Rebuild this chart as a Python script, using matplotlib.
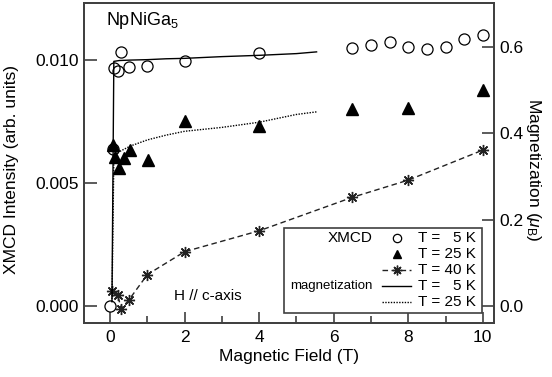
import matplotlib
matplotlib.use("Agg")
import matplotlib.pyplot as plt
from matplotlib.lines import Line2D
from matplotlib.patches import Rectangle

plt.rcParams["font.family"] = ["Liberation Sans", "DejaVu Sans"]
plt.rcParams["mathtext.fontset"] = "custom"
plt.rcParams["mathtext.rm"] = "Liberation Sans"
plt.rcParams["mathtext.it"] = "Liberation Sans:italic"

# XMCD intensity (arb. units)
field_5k = [0.0, 0.07, 0.1, 0.2, 0.3, 0.5, 1.0, 2.0, 4.0, 6.5, 7.0, 7.5, 8.0, 8.5, 9.0, 9.5, 10.0]
xmcd_5k = [0.0, 0.00638, 0.00968, 0.00955, 0.01032, 0.00972, 0.00977, 0.00997, 0.01027,
           0.01050, 0.01061, 0.01074, 0.01054, 0.01045, 0.01054, 0.01085, 0.01102]
field_25k = [0.09, 0.13, 0.24, 0.36, 0.54, 1.03, 2.0, 4.0, 6.5, 8.0, 10.0]
xmcd_25k = [0.00655, 0.00607, 0.00560, 0.00600, 0.00636, 0.00593, 0.00753, 0.00732,
            0.00802, 0.00806, 0.00878]
field_40k = [0.05, 0.2, 0.3, 0.5, 1.0, 2.0, 4.0, 6.5, 8.0, 10.0]
xmcd_40k = [0.00062, 0.00045, -0.00010, 0.00024, 0.00128, 0.00221, 0.00306,
            0.00442, 0.00512, 0.00634]

# magnetization (mu_B)
field_mag = [0.05, 0.1, 0.25, 0.55, 1.0, 1.5, 2.0, 3.0, 4.0, 5.0, 5.54]
mag_5k = [0.01, 0.567, 0.569, 0.570, 0.571, 0.573, 0.574, 0.578, 0.581, 0.585, 0.589]
mag_25k = [0.01, 0.343, 0.358, 0.371, 0.385, 0.396, 0.405, 0.414, 0.426, 0.444, 0.450]

xmcd_ylim = (-0.00069, 0.01232)
mag_per_xmcd = 57.0

frame = "#404040"
fig = plt.figure(figsize=(5.52, 3.77), dpi=100)
ax = fig.add_axes([0.1522, 0.1432, 0.7427, 0.8488])
ax2 = ax.twinx()

ax2.plot(field_mag, mag_5k, color="black", lw=1.0)
ax2.plot(field_mag, mag_25k, color="black", lw=1.0, ls=(0, (1, 1)))
ax.plot(field_40k, xmcd_40k, color="#222222", lw=1.0, ls=(0, (4, 2.5)),
        marker=(8, 2, 0), ms=8, mew=1.0)
ax.plot(field_25k, xmcd_25k, ls="none", marker="^", ms=8, color="black")
ax.plot(field_5k, xmcd_5k, ls="none", marker="o", ms=8, mfc="none", mec="black", mew=0.9)

ax.set_xlim(-0.7, 10.3)
ax.set_ylim(*xmcd_ylim)
ax2.set_ylim(xmcd_ylim[0] * mag_per_xmcd, xmcd_ylim[1] * mag_per_xmcd)

ax.set_xticks([0, 2, 4, 6, 8, 10])
ax.set_xticks([1, 3, 5, 7, 9], minor=True)
ax.set_yticks([0.0, 0.005, 0.010])
ax.set_yticklabels(["0.000", "0.005", "0.010"])
ax2.set_yticks([0.0, 0.2, 0.4, 0.6])
ax2.set_yticklabels(["0.0", "0.2", "0.4", "0.6"])

for a in (ax, ax2):
    for s in a.spines.values():
        s.set_color(frame)
        s.set_linewidth(1.3)
ax.tick_params(axis="x", which="major", direction="in", length=8, width=1.2, color=frame,
               labelsize=12.5, pad=5)
ax.tick_params(axis="x", which="minor", direction="in", length=5, width=1.2, color=frame)
ax.tick_params(axis="y", direction="in", length=9, width=1.2, color=frame, labelsize=12.5, pad=4)
ax2.tick_params(axis="y", direction="in", length=9, width=1.2, color=frame, labelsize=12.5, pad=4)

ax.set_xlabel("Magnetic Field (T)", fontsize=12.5, labelpad=3)
ax.set_ylabel("XMCD Intensity (arb. units)", fontsize=12.5)
ax.yaxis.set_label_coords(-0.158, 0.48)
ax2.set_ylabel(r"Magnetization ($\mu_\mathrm{B}$)", fontsize=12.5, rotation=-90)
ax2.yaxis.set_label_coords(1.12, 0.48)

ax.text(0.054, 0.93, r"NpNiGa$_5$", transform=ax.transAxes, fontsize=13, va="baseline")
ax.text(0.22, 0.072, "H // c-axis", transform=ax.transAxes, fontsize=11, va="baseline")

# legend box
ax.add_patch(Rectangle((0.488, 0.031), 0.483, 0.266, transform=ax.transAxes,
                       fill=True, fc="white", ec=frame, lw=1.2, zorder=5))
rows = [0.265, 0.217, 0.167, 0.115, 0.066]
labels = ["T =   5 K", "T = 25 K", "T = 40 K", "T =   5 K", "T = 25 K"]
for y, lab in zip(rows, labels):
    ax.text(0.815, y, lab, transform=ax.transAxes, fontsize=11, va="center", zorder=6)
ax.text(0.704, rows[0], "XMCD", transform=ax.transAxes, fontsize=11, va="center",
        ha="right", zorder=6)
ax.text(0.703, rows[3], "magnetization", transform=ax.transAxes, fontsize=9.5, va="center",
        ha="right", zorder=6)
hx = [0.728, 0.798]
mx = [0.763]
handles = [
    Line2D(mx, [rows[0]], ls="none", marker="o", ms=6, mfc="none", mec="black", mew=0.9),
    Line2D(mx, [rows[1]], ls="none", marker="^", ms=6, color="black"),
    Line2D(hx, [rows[2]] * 2, color="#222222", lw=1.0, ls=(0, (4, 2.5))),
    Line2D(mx, [rows[2]], ls="none", color="#222222", marker=(8, 2, 0), ms=7, mew=1.0),
    Line2D(hx, [rows[3]] * 2, color="black", lw=1.0),
    Line2D(hx, [rows[4]] * 2, color="black", lw=1.0, ls=(0, (1, 1))),
]
for h in handles:
    h.set_transform(ax.transAxes)
    h.set_zorder(6)
    h.set_clip_on(False)
    ax.add_line(h)

fig.savefig("out.png", dpi=100)
